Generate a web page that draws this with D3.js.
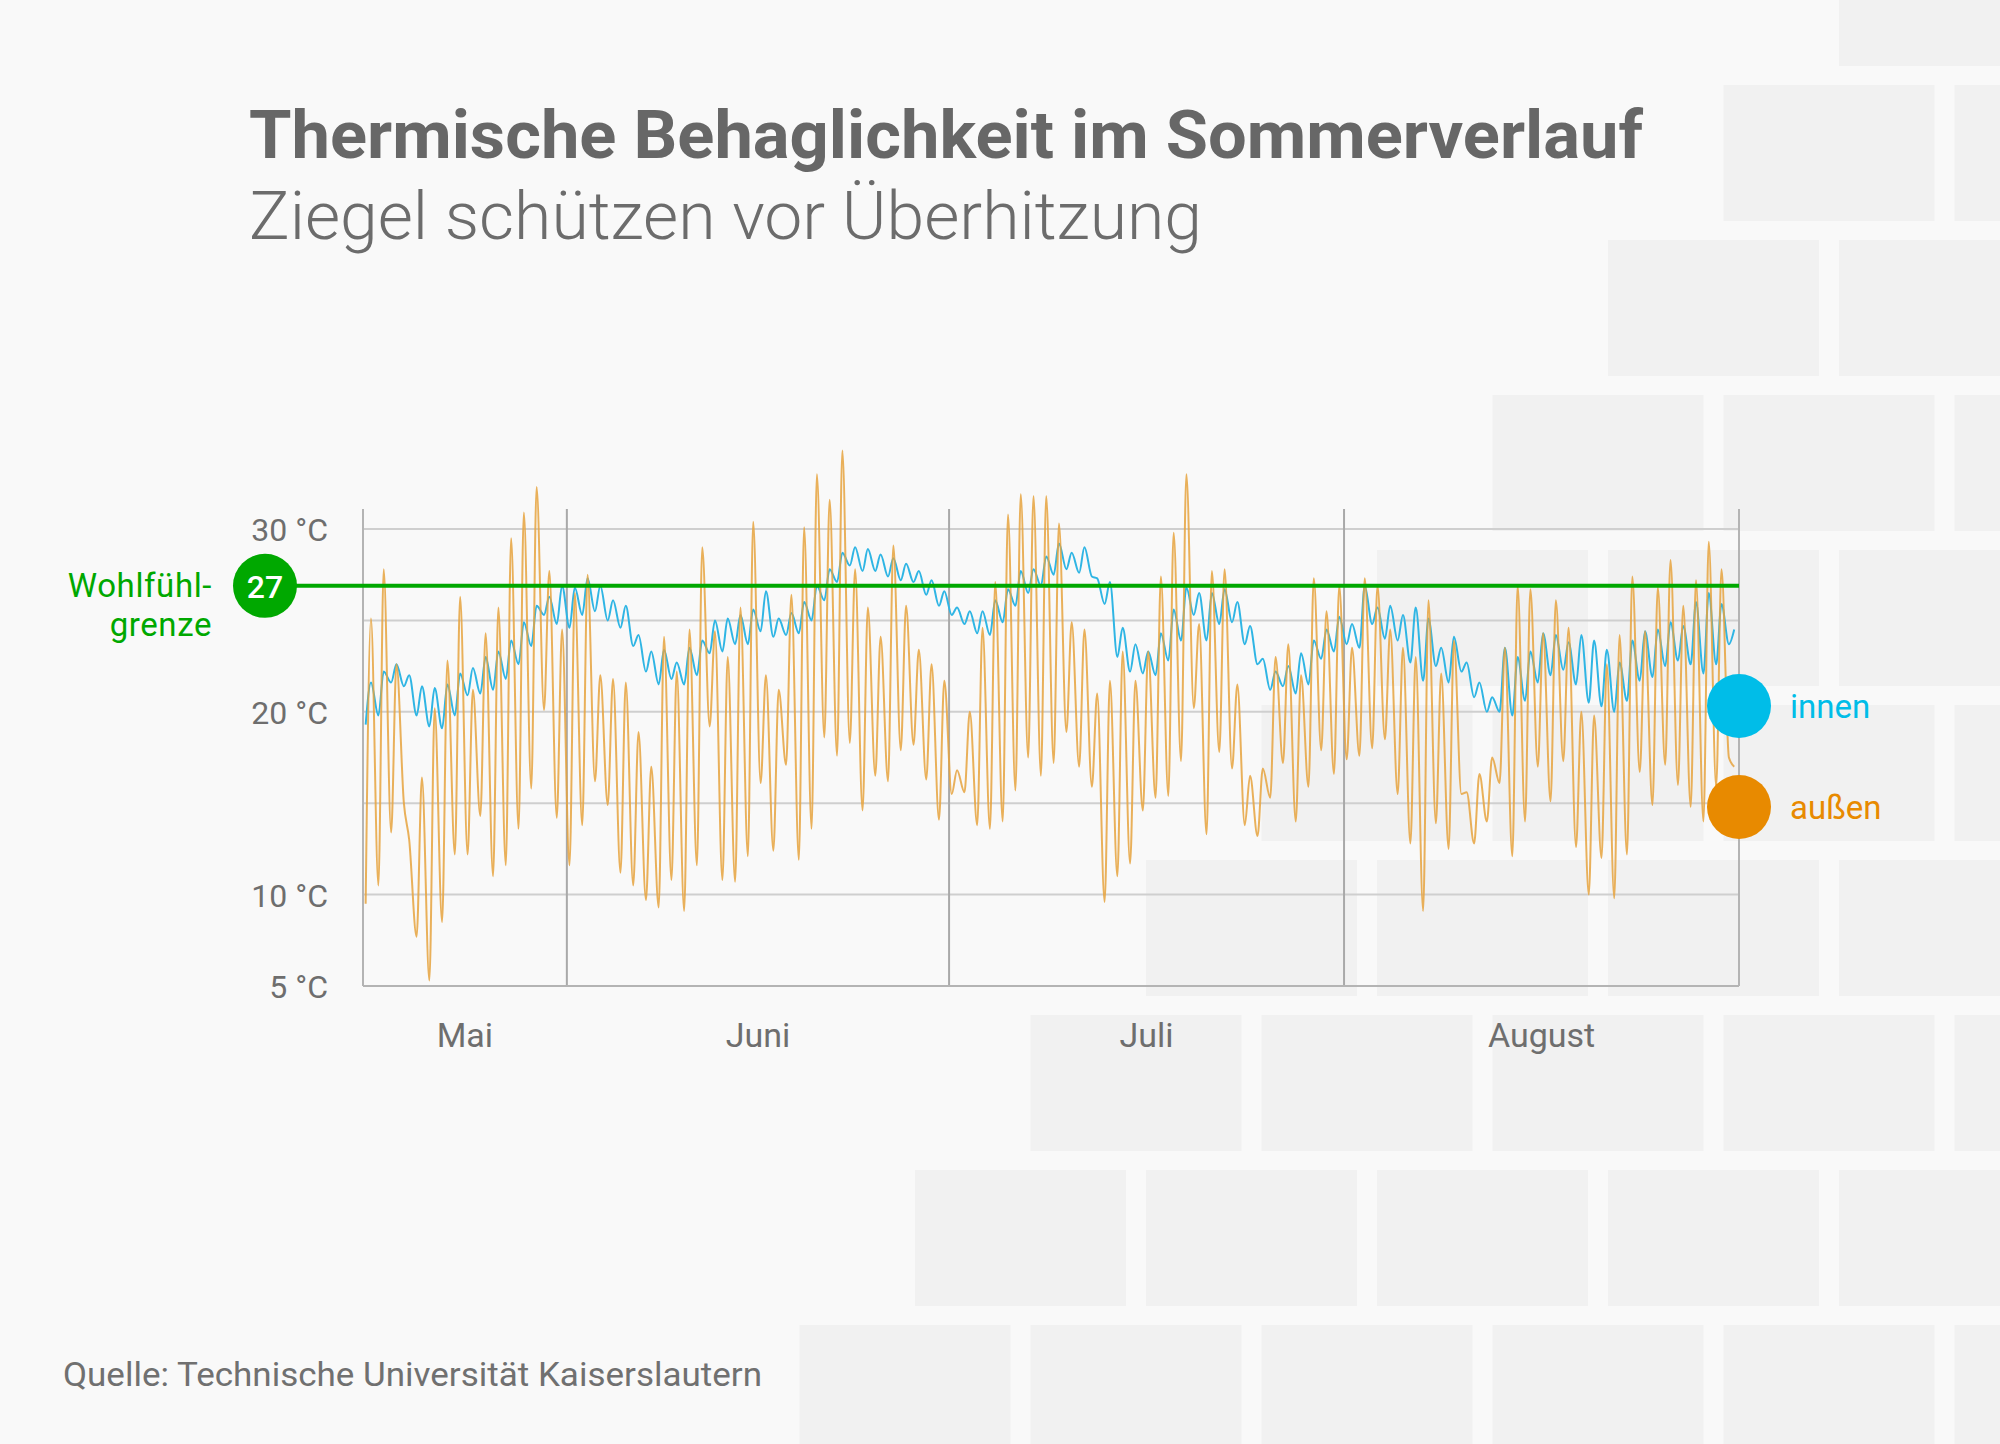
<!DOCTYPE html>
<html><head><meta charset="utf-8">
<script src="https://cdn.jsdelivr.net/npm/d3@7"></script>
<style>
html,body{margin:0;padding:0;background:#f9f9f9;}
svg{display:block;font-family:Roboto, "Noto Sans", sans-serif;}
</style>
</head><body>
<svg id="chart" width="2000" height="1444"></svg>
<script>
// ---------- DATA ----------
const titel = "Thermische Behaglichkeit im Sommerverlauf";
const untertitel = "Ziegel schützen vor Überhitzung";
const quelle = "Quelle: Technische Universität Kaiserslautern";
const monate = ["Mai", "Juni", "Juli", "August"];
const monatsGrenzen = ["2019-05-16", "2019-06-01", "2019-07-01", "2019-08-01", "2019-09-01"];
const yTickWerte = [30, 20, 10, 5];
const yTickLabels = ["30 °C", "20 °C", "10 °C", "5 °C"];
const gridWerte = [30, 25, 20, 15, 10];
const wohlfuehlgrenze = 27;
const serienNamen = ["innen", "außen"];

// daily readings, one value per day from 16 May: early morning and afternoon
const aussenFrueh = [
  9.5,10.5,13.4,15.0,7.7,5.3,8.5,12.2,12.2,14.3,11.0,11.6,13.6,15.8,20.1,14.2,
  11.6,13.8,16.2,14.9,11.2,10.5,9.7,9.3,10.8,9.1,11.6,19.2,10.8,10.7,12.1,16.1,12.4,17.1,11.9,13.6,18.6,17.6,18.3,14.6,16.5,16.2,17.9,18.2,16.3,14.1,
  15.5,15.6,13.8,13.6,14.0,15.7,17.5,16.5,17.2,18.9,17.0,15.9,9.6,11.0,11.7,14.6,15.3,15.4,17.3,20.2,13.3,17.8,16.9,13.8,13.2,15.3,17.2,14.0,15.9,17.9,16.6,
  17.4,17.6,18.0,18.5,15.5,12.8,9.1,13.9,12.5,15.5,12.8,14.0,16.1,12.1,14.0,17.0,15.1,17.3,12.6,10.0,12.0,9.8,12.2,16.7,14.9,17.1,16.0,14.8,14.0,15.9,17.5
];
const aussenNachmittag = [
  25.1,27.8,22.6,13.0,16.4,20.2,22.8,26.3,21.2,24.3,25.7,29.5,30.9,32.3,27.7,24.5,
  26.5,27.5,22.0,21.8,21.6,18.9,17.0,24.1,22.2,24.5,29.0,24.4,23.0,25.7,30.4,22.0,21.2,26.4,30.1,33.0,31.6,34.3,27.8,25.7,24.1,29.1,25.8,23.4,22.6,21.7,
  16.8,20.0,24.6,27.1,30.8,31.9,31.8,31.8,30.3,24.9,24.5,21.0,21.7,23.3,21.7,23.3,27.4,29.8,33.0,24.8,27.7,27.8,21.5,16.5,16.9,23.0,23.7,22.0,27.3,25.5,26.9,
  23.5,27.3,26.9,24.5,23.5,23.0,26.1,22.1,23.9,15.6,16.6,17.5,23.5,26.9,26.7,24.3,26.1,24.6,20.0,19.8,22.6,24.2,27.4,24.4,26.8,28.3,25.8,27.2,29.3,27.8,17.0
];
const innenFrueh = [
  19.3,19.8,21.6,21.4,19.8,19.2,19.1,19.8,20.9,21.0,21.2,21.8,22.6,23.6,25.3,24.8,
  24.6,25.3,25.5,25.0,24.6,23.6,22.2,21.5,21.8,21.5,22.0,23.2,23.3,23.7,23.7,24.4,24.1,24.2,24.3,25.0,26.1,27.1,28.0,27.7,27.7,27.4,27.2,27.1,26.4,25.8,
  25.3,24.8,24.3,24.2,24.9,25.8,26.5,26.9,27.5,27.8,27.6,27.4,25.9,23.0,22.2,22.1,22.0,22.8,23.9,25.3,23.9,24.8,24.9,23.7,22.6,21.2,21.4,21.0,21.5,22.9,23.3,
  23.7,23.5,24.8,24.0,23.9,22.7,21.7,22.5,21.6,22.2,20.8,20.0,20.0,19.8,20.6,21.6,22.0,22.3,21.5,20.5,20.3,20.0,20.6,21.7,21.9,22.5,22.8,22.6,22.1,22.6,23.7
];
const innenNachmittag = [
  21.6,22.2,22.6,22.0,21.4,21.3,21.5,22.1,22.4,23.0,23.3,23.9,24.9,25.8,26.3,26.9,
  26.8,27.3,26.9,26.1,25.8,24.2,23.3,23.4,22.7,23.5,23.9,25.0,25.1,25.3,25.6,26.6,25.1,25.4,26.0,26.9,27.8,28.7,29.0,28.9,28.6,28.4,28.1,27.7,27.2,26.6,
  25.7,25.5,25.5,26.1,26.7,27.7,27.8,28.5,29.2,28.7,29.0,27.3,27.1,24.6,23.7,23.3,24.3,25.6,26.8,26.5,26.5,26.7,26.0,24.7,22.9,22.2,22.5,23.2,23.9,24.5,25.2,
  24.8,26.9,25.7,25.8,25.3,25.7,25.1,23.5,24.1,22.7,21.6,20.8,23.5,23.0,23.3,24.3,24.2,23.8,24.2,23.9,23.4,22.7,23.9,24.4,24.5,24.9,24.7,26.0,26.5,25.9,24.5
];

// ---------- LAYOUT ----------
const W = 2000, H = 1444;
const plot = {left: 363, right: 1739, top: 509, bottom: 986};
const farben = {
  bg: "#f9f9f9", brick: "#f1f1f1", text: "#676767", grid: "#cfcfcf", vgrid: "#a9a9a9",
  axis: "#b4b4b4", green: "#00a800", innen: "#00bde8", aussen: "#e88a00", aussenLinie: "#e6a33e", innenLinie: "#2fb5e4"
};

const svg = d3.select("#chart");
svg.append("rect").attr("width", W).attr("height", H).attr("fill", farben.bg);

// background brick pattern (decoration)
const bricks = svg.append("g");
for (let i = 0; i < 10; i++) {
  const top = -70 + 155 * i;
  for (let x = 1839 - 115.5 * i; x < W; x += 231) {
    bricks.append("rect").attr("x", x).attr("y", top).attr("width", 211).attr("height", 136).attr("fill", farben.brick);
  }
}

function fit(sel, width) {
  sel.attr("textLength", width).attr("lengthAdjust", "spacingAndGlyphs");
}

// title
svg.append("text").attr("x", 249).attr("y", 158).attr("font-size", 66).attr("font-weight", 700)
  .attr("fill", farben.text).text(titel).call(fit, 1394);
svg.append("text").attr("x", 249).attr("y", 239).attr("font-size", 67).attr("font-weight", 300)
  .attr("fill", "#6c6c6c").text(untertitel).call(fit, 953);
svg.append("text").attr("x", 63).attr("y", 1386).attr("font-size", 34).attr("font-weight", 400)
  .attr("fill", "#707070").text(quelle).call(fit, 699);

// scales
const parse = d3.utcParse("%Y-%m-%d");
const grenzen = monatsGrenzen.map(parse);
const x = d3.scaleUtc().domain([grenzen[0], grenzen[grenzen.length - 1]]).range([plot.left, plot.right]);
const y = d3.scaleLinear().domain([5, 30]).range([plot.bottom, 529]);

// series
const HOUR = 3600 * 1000, DAY = 24 * HOUR;
function serie(frueh, nachm) {
  const pts = [];
  frueh.forEach((v, d) => {
    const t0 = +grenzen[0] + d * DAY;
    pts.push({t: new Date(t0 + 5 * HOUR), v: v});
    pts.push({t: new Date(t0 + 15 * HOUR), v: nachm[d]});
  });
  return pts;
}
const aussen = serie(aussenFrueh, aussenNachmittag);
const innen = serie(innenFrueh, innenNachmittag);

// grid
const g = svg.append("g");
g.selectAll(".hg").data(gridWerte).join("line")
  .attr("x1", plot.left).attr("x2", plot.right)
  .attr("y1", d => y(d)).attr("y2", d => y(d))
  .attr("stroke", farben.grid).attr("stroke-width", 2);
g.selectAll(".vg").data(grenzen).join("line")
  .attr("x1", d => x(d)).attr("x2", d => x(d))
  .attr("y1", plot.top).attr("y2", plot.bottom)
  .attr("stroke", (d, i) => (i === 0 || i === grenzen.length - 1) ? farben.axis : farben.vgrid)
  .attr("stroke-width", 2);
g.append("line").attr("x1", plot.left).attr("x2", plot.right).attr("y1", plot.bottom).attr("y2", plot.bottom)
  .attr("stroke", farben.axis).attr("stroke-width", 2);

// y tick labels
g.selectAll(".yl").data(yTickWerte).join("text")
  .attr("x", 328).attr("y", d => y(d) + 12)
  .attr("text-anchor", "end").attr("font-size", 32).attr("fill", "#6e6e6e")
  .text((d, i) => yTickLabels[i]);

// month labels
g.selectAll(".ml").data(monate).join("text")
  .attr("x", (d, i) => (x(grenzen[i]) + x(grenzen[i + 1])) / 2)
  .attr("y", 1047).attr("text-anchor", "middle").attr("font-size", 34).attr("fill", "#6e6e6e")
  .text(d => d);

// lines
const line = d3.line().x(d => x(d.t)).y(d => y(d.v)).curve(d3.curveMonotoneX);
svg.append("path").datum(innen).attr("d", line).attr("fill", "none")
  .attr("stroke", farben.innenLinie).attr("stroke-width", 2).attr("stroke-linejoin", "round");
svg.append("path").datum(aussen).attr("d", line).attr("fill", "none")
  .attr("stroke", farben.aussenLinie).attr("stroke-width", 2).attr("stroke-linejoin", "round")
  .attr("stroke-opacity", 0.85);

// comfort limit
const yG = y(wohlfuehlgrenze) + 2;
svg.append("line").attr("x1", 265).attr("x2", plot.right).attr("y1", yG).attr("y2", yG)
  .attr("stroke", farben.green).attr("stroke-width", 4);
svg.append("circle").attr("cx", 265).attr("cy", yG).attr("r", 32).attr("fill", farben.green);
svg.append("text").attr("x", 265).attr("y", yG + 12).attr("text-anchor", "middle")
  .attr("font-size", 32).attr("font-weight", 500).attr("fill", "#fff").text(wohlfuehlgrenze);
svg.append("text").attr("x", 212).attr("y", yG + 11).attr("text-anchor", "end")
  .attr("font-size", 33).attr("fill", farben.green).attr("letter-spacing", 0.6).text("Wohlfühl-");
svg.append("text").attr("x", 212).attr("y", yG + 50).attr("text-anchor", "end")
  .attr("font-size", 33).attr("fill", farben.green).attr("letter-spacing", 0.6).text("grenze");

// legend
const legende = [
  {name: serienNamen[0], farbe: farben.innen, cy: 706},
  {name: serienNamen[1], farbe: farben.aussen, cy: 807}
];
const lg = svg.append("g");
lg.selectAll("circle").data(legende).join("circle")
  .attr("cx", plot.right).attr("cy", d => d.cy).attr("r", 32).attr("fill", d => d.farbe);
lg.selectAll("text").data(legende).join("text")
  .attr("x", 1790).attr("y", d => d.cy + 12).attr("font-size", 33).attr("fill", d => d.farbe)
  .text(d => d.name);
</script>
</body></html>
